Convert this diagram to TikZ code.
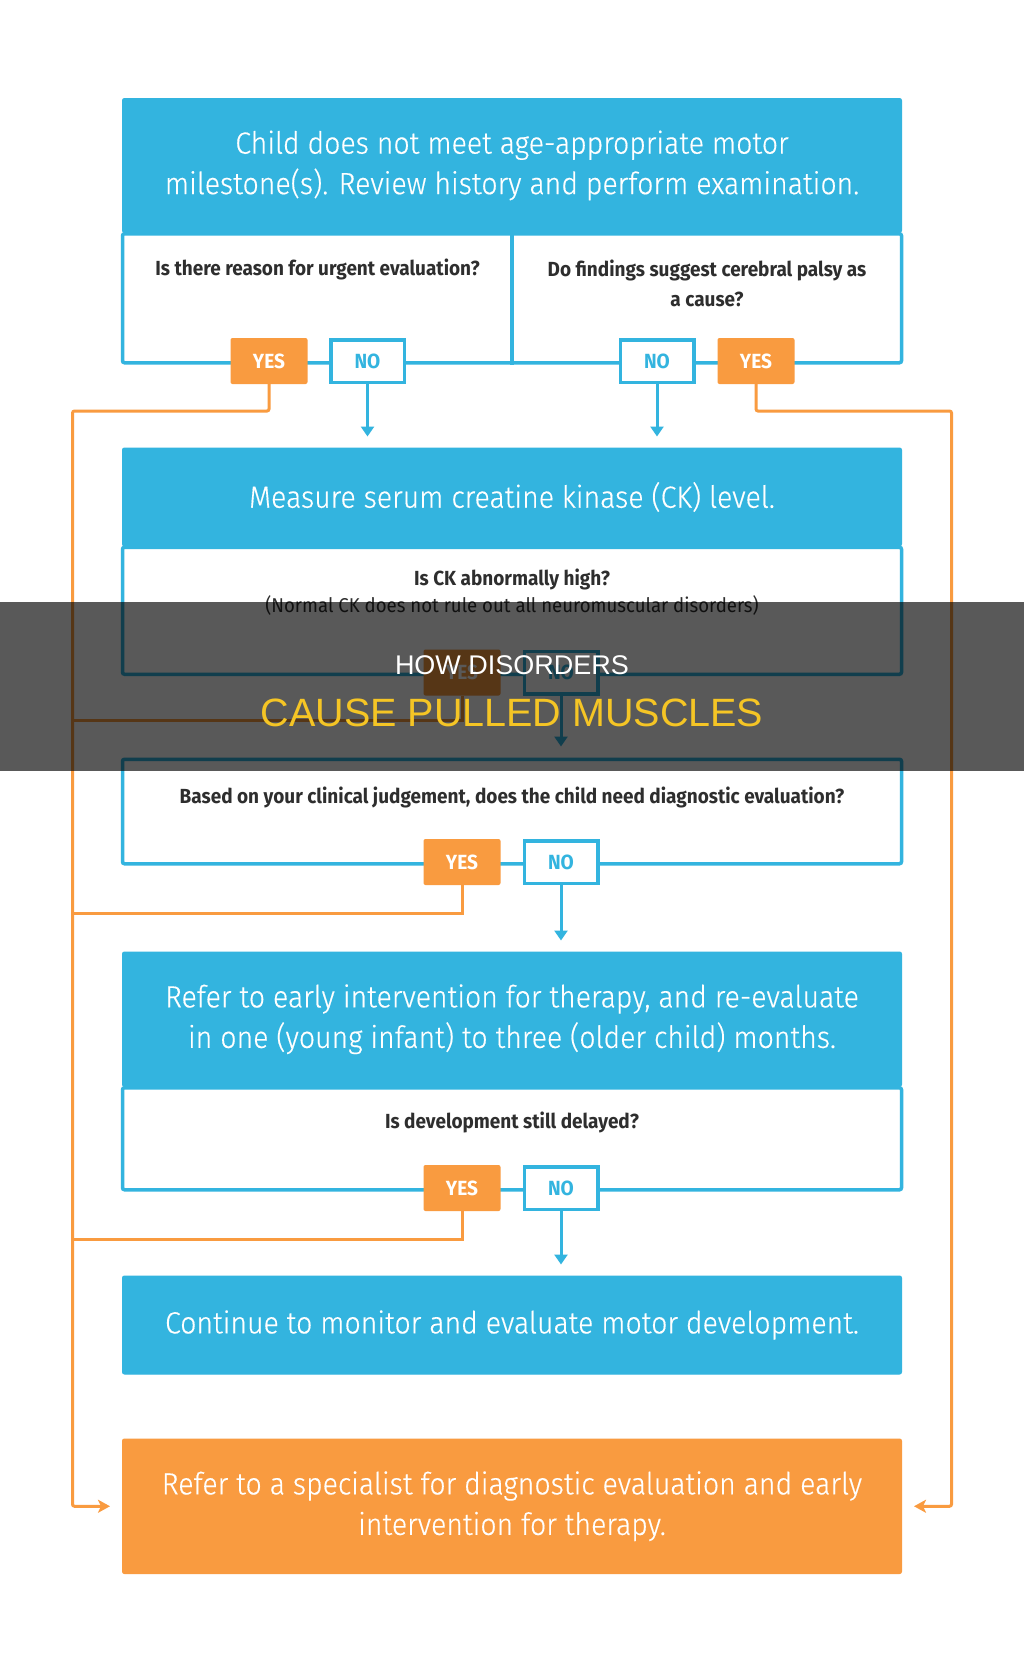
\documentclass[tikz,border=0pt]{standalone}
\usepackage{fontspec}
\setmainfont{Fira Sans}[FakeStretch=0.93]
\newfontfamily\lightf{Fira Sans Light}[FakeStretch=0.93,FakeBold=0.4]
\newfontfamily\ovf{Liberation Sans}
\usetikzlibrary{arrows.meta}
\definecolor{cblue}{HTML}{33B4DF}
\definecolor{corange}{HTML}{F99B40}
\definecolor{ctext}{HTML}{2E2E2E}
\definecolor{cyell}{HTML}{F5C525}
\begin{document}
\begin{tikzpicture}[x=1pt,y=-1pt,
  hdr/.style={fill=cblue, draw=cblue, line width=1pt, rounded corners=2pt, minimum width=779pt, text=white, font=\lightf\fontsize{30.6}{40.5}\selectfont, align=center, inner sep=0pt, anchor=north},
  ohdr/.style={hdr, fill=corange, draw=corange},
  qbox/.style={draw=cblue, line width=3.5pt, rounded corners=2pt, minimum width=779pt, inner sep=0pt, anchor=north},
  qtext/.style={text=ctext, font=\bfseries\fontsize{20.4}{29.5}\selectfont, align=center, inner sep=0pt},
  ntext/.style={text=ctext, font=\fontsize{20}{24}\selectfont, align=center, inner sep=0pt},
  yesb/.style={fill=corange, rounded corners=2pt, minimum width=77pt, minimum height=46pt, text=white, font=\bfseries\fontsize{20.5}{21}\selectfont, inner sep=0pt},
  nob/.style={fill=white, draw=cblue, line width=3.5pt, minimum width=73.5pt, minimum height=42.5pt, text=cblue, font=\bfseries\fontsize{20.5}{21}\selectfont, inner sep=0pt},
  bline/.style={cblue, line width=3.5pt},
  barrow/.style={cblue, line width=3pt, -{Triangle[length=10pt,width=13pt]}, shorten >=11pt},
  oline/.style={corange, line width=3pt},
  oarrow/.style={corange, line width=3pt, rounded corners=2pt, -{Stealth[length=12pt,width=13pt,inset=3pt]}, shorten >=12pt}
]
\useasboundingbox (0,0) rectangle (1024,1671);
\fill[white] (0,0) rectangle (1024,1671);

% ---------- box 1
\node[hdr, minimum height=134pt] (h1) at (512,98) {Child does not meet age-appropriate motor\\milestone(s). Review history and perform examination.};
\node[qbox, minimum height=129pt] (q1) at (512,232) {};
\draw[bline] (q1.north) -- (q1.south);
\node[qtext] (t1a) at (317.5,269) {Is there reason for urgent evaluation?};
\node[qtext] (t1b) at (707,283.5) {Do findings suggest cerebral palsy as\\a cause?};
\node[yesb] (y1a) at (269,361) {YES};
\node[nob] (n1a) at (367.5,361) {NO};
\node[nob] (n1b) at (657,361) {NO};
\node[yesb] (y1b) at (756,361) {YES};

% ---------- box 2
\node[hdr, minimum height=98pt] (h2) at (512,447.5) {Measure serum creatine kinase (CK) level.};
\node[qbox, minimum height=127pt] (q2) at (512,545.5) {};
\node[qtext] (t2a) at (512,579) {Is CK abnormally high?};
\node[ntext] (t2b) at (512,605.5) {(Normal CK does not rule out all neuromuscular disorders)};
\node[yesb] (y2) at (462,672.5) {YES};
\node[nob] (n2) at (561,672.5) {NO};

% ---------- box 3
\node[qbox, minimum height=104.5pt] (q3) at (512,757.5) {};
\node[qtext] (t3) at (512,797.5) {Based on your clinical judgement, does the child need diagnostic evaluation?};
\node[yesb] (y3) at (462,862) {YES};
\node[nob] (n3) at (561,862) {NO};

% ---------- box 4
\node[hdr, minimum height=134.5pt] (h4) at (512,951.5) {Refer to early intervention for therapy, and re-evaluate\\in one (young infant) to three (older child) months.};
\node[qbox, minimum height=102pt] (q4) at (512,1086) {};
\node[qtext] (t4) at (512,1122.5) {Is development still delayed?};
\node[yesb] (y4) at (462,1188) {YES};
\node[nob] (n4) at (561,1188) {NO};

% ---------- box 5, 6
\node[hdr, minimum height=98pt] (h5) at (512,1275.5) {Continue to monitor and evaluate motor development.};
\node[ohdr, minimum height=134.5pt] (h6) at (512,1438.5) {Refer to a specialist for diagnostic evaluation and early\\intervention for therapy.};

% ---------- blue arrows
\draw[barrow] (n1a.south) -- (n1a.south |- h2.north);
\draw[barrow] (n1b.south) -- (n1b.south |- h2.north);
\draw[barrow] (n2.south) -- (n2.south |- q3.north);
\draw[barrow] (n3.south) -- (n3.south |- h4.north);
\draw[barrow] (n4.south) -- (n4.south |- h5.north);

% ---------- orange connectors
\coordinate (L1) at (72.5,411);
\coordinate (R1) at (951.5,411);
\coordinate (L2) at (72.5,720);
\coordinate (L3) at (72.5,913);
\coordinate (L4) at (72.5,1239);
\draw[oarrow] (y1a.south) |- (L1) |- (h6.west);
\draw[oarrow] (y1b.south) |- (R1) |- (h6.east);
\draw[oline] (y2.south) |- (L2);
\draw[oline] (y3.south) |- (L3);
\draw[oline] (y4.south) |- (L4);

% ---------- overlay band
\node[fill=black, fill opacity=0.65, minimum width=1024pt, minimum height=169pt, inner sep=0pt, anchor=north west] (band) at (0,602) {};
\node[text=white, font=\ovf\fontsize{27}{30}\selectfont, inner sep=0pt] (ov1) at (512,665) {HOW DISORDERS};
\node[text=cyell, font=\ovf\fontsize{39.5}{42}\selectfont, inner sep=0pt] (ov2) at (512,713) {CAUSE PULLED MUSCLES};
\end{tikzpicture}
\end{document}
